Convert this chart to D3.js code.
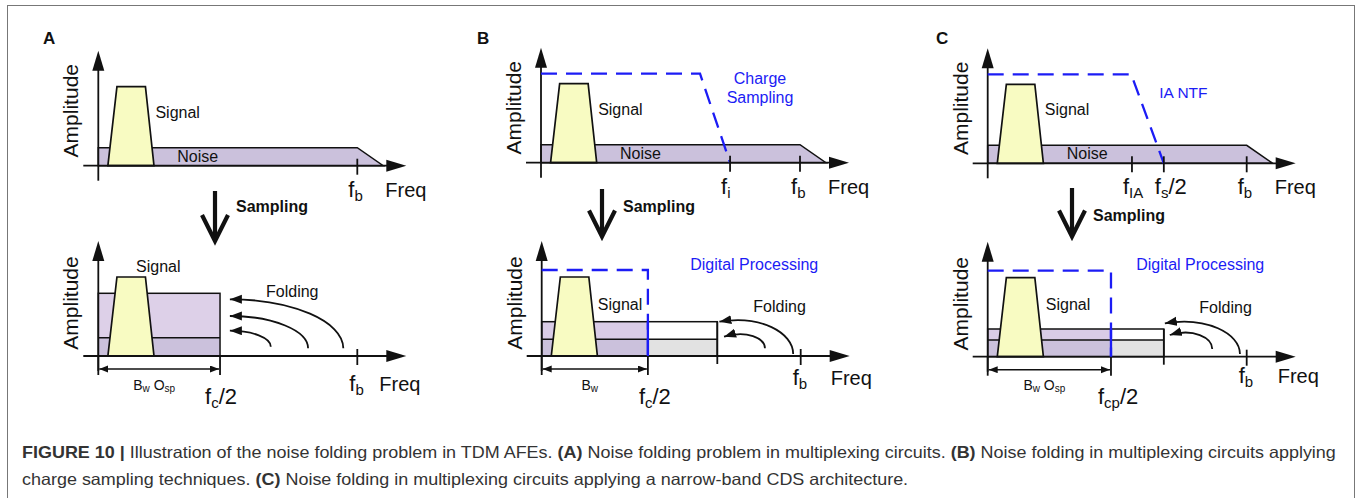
<!DOCTYPE html>
<html>
<head>
<meta charset="utf-8">
<script src="https://cdn.jsdelivr.net/npm/d3@7"></script>
<style>
  body { margin: 0; background: #fff; }
  svg { display: block; font-family: "Liberation Sans", Arial, Helvetica, sans-serif; }
</style>
</head>
<body>
<svg id="fig" width="1357" height="498"></svg>
<script>
// 1: VALUES
// frequency is in units of f_b (f_b = 1), amplitude in arbitrary units
const panelLetters = ["A", "B", "C"];
const signalCorners = [0.037, 0.072, 0.182, 0.215];
const signalHeight = 0.79;
const noiseLevel = 0.18;
const noiseCorner = 1.0;
const noiseEnd = 1.1;
const filterKnee = [null, 0.614, 0.554];
const filterCut = [null, 0.73, 0.68];
const filterLevel = 0.89;
const filterLabels = [null, ["Charge", "Sampling"], ["IA NTF"]];
const topTicks = [[1], [0.73, 1], [0.557, 0.68, 1]];
const topTickLabels = [
  [["f", "b", ""]],
  [["f", "i", ""], ["f", "b", ""]],
  [["f", "IA", ""], ["f", "s", "/2"], ["f", "b", ""]]
];

const bandEdge = [0.47, 0.41, 0.476];
const foldEdge = [null, 0.678, 0.68];
const foldedNoise = [0.627, 0.343, 0.277];
const baseNoise = [0.183, 0.167, 0.167];
const dspLevel = 0.86;
const foldArcs = [
  [[0.946, 0.077, 0.508, 0.567], [0.81, 0.077, 0.508, 0.40], [0.666, 0.093, 0.508, 0.253]],
  [[0.971, 0.02, 0.686, 0.343], [0.862, 0.077, 0.704, 0.193]],
  [[0.974, 0.027, 0.684, 0.334], [0.867, 0.077, 0.703, 0.217]]
];
const bandLabels = [["B", "w", " O", "sp"], ["B", "w"], ["B", "w", " O", "sp"]];
const edgeLabels = [["f", "c", "/2"], ["f", "c", "/2"], ["f", "cp", "/2"]];

const captionLine1 = [
  ["FIGURE 10 | ", true], ["Illustration of the noise folding problem in TDM AFEs. ", false],
  ["(A)", true], [" Noise folding problem in multiplexing circuits. ", false],
  ["(B)", true], [" Noise folding in multiplexing circuits applying", false]
];
const captionLine2 = [
  ["charge sampling techniques. ", false], ["(C)", true],
  [" Noise folding in multiplexing circuits applying a narrow-band CDS architecture.", false]
];

// 2: LAYOUT
const topX0 = [98.3, 541, 987.7], topY0 = [165.7, 162.7, 163.3];
const botX0 = [98.3, 541.7, 987.7], botY0 = [356, 356, 356.7];
const unitW = 259, unitH = 100;
const arcLift = [0, 7, 7];
const blue = "#1c1cf5";
const ink = "#111";

const svg = d3.select("#fig");

svg.append("rect")
  .attr("x", 7.5).attr("y", 5.5).attr("width", 1347).attr("height", 520)
  .attr("fill", "none").attr("stroke", "#777").attr("stroke-width", 1);

const defs = svg.append("defs");
defs.append("marker").attr("id", "head")
  .attr("markerUnits", "userSpaceOnUse").attr("markerWidth", 14).attr("markerHeight", 12)
  .attr("refX", 12).attr("refY", 4.5).attr("orient", "auto")
  .append("path").attr("d", "M0,0 L12,4.5 L0,9 Z").attr("fill", ink);
defs.append("marker").attr("id", "barb")
  .attr("markerUnits", "userSpaceOnUse").attr("markerWidth", 10).attr("markerHeight", 8)
  .attr("refX", 9).attr("refY", 3.5).attr("orient", "auto-start-reverse")
  .append("path").attr("d", "M0,0 L9,3.5 L0,7 Z").attr("fill", ink);

const line = (x, y) => d3.line().x(d => x(d[0])).y(d => y(d[1]));

// text with alternating normal / subscript parts
function subText(g, px, py, parts, size, subSize, shift, fill) {
  const t = g.append("text").attr("x", px).attr("y", py)
    .attr("font-size", size).attr("fill", fill || ink);
  let off = 0;
  parts.forEach((p, i) => {
    if (!p) return;
    const isSub = i % 2 === 1;
    const want = isSub ? shift : 0;
    t.append("tspan").attr("font-size", isSub ? subSize : size)
      .attr("dy", want - off).text(p);
    off = want;
  });
  return t;
}

function axes(g, x0, y0) {
  const xTip = x0 + 308, yTip = y0 - 115;
  g.append("line").attr("x1", x0 - 15).attr("x2", xTip - 10).attr("y1", y0).attr("y2", y0)
    .attr("stroke", ink).attr("stroke-width", 1.8);
  g.append("line").attr("x1", x0).attr("x2", x0).attr("y1", y0 + 15).attr("y2", yTip + 10)
    .attr("stroke", ink).attr("stroke-width", 1.8);
  g.append("path").attr("d", `M${xTip},${y0} L${xTip - 20},${y0 - 6} L${xTip - 20},${y0 + 6} Z`).attr("fill", ink);
  g.append("path").attr("d", `M${x0},${yTip} L${x0 - 6},${yTip + 20} L${x0 + 6},${yTip + 20} Z`).attr("fill", ink);
}

function amplitude(g, x0, cy) {
  g.append("text").attr("transform", `translate(${x0 - 20},${cy}) rotate(-90)`)
    .attr("text-anchor", "middle").attr("font-size", 21).attr("fill", ink).text("Amplitude");
}

function signal(g, x, y) {
  const c = signalCorners;
  g.append("path")
    .attr("d", line(x, y)([[c[0], 0], [c[1], signalHeight], [c[2], signalHeight], [c[3], 0]]) + "Z")
    .attr("fill", "#f8fbc2").attr("stroke", ink).attr("stroke-width", 1.7);
}

// 3: TOP ROW - spectra before sampling
panelLetters.forEach((L, i) => {
  const g = svg.append("g");
  const x0 = topX0[i], y0 = topY0[i];
  const x = d3.scaleLinear().domain([0, 1]).range([x0, x0 + unitW]);
  const y = d3.scaleLinear().domain([0, 1]).range([y0, y0 - unitH]);

  g.append("text").attr("x", [43, 477, 936][i]).attr("y", 44)
    .attr("font-size", 17).attr("font-weight", "bold").attr("fill", ink).text(L);

  g.append("path")
    .attr("d", line(x, y)([[0, 0], [0, noiseLevel], [noiseCorner, noiseLevel], [noiseEnd, 0]]) + "Z")
    .attr("fill", "#cbc1dc").attr("stroke", ink).attr("stroke-width", 1.5);
  signal(g, x, y);
  axes(g, x0, y0);
  amplitude(g, x0, y0 - 55);

  if (filterKnee[i] !== null) {
    g.append("path")
      .attr("d", line(x, y)([[0, filterLevel], [filterKnee[i], filterLevel], [filterCut[i], 0]]))
      .attr("fill", "none").attr("stroke", blue).attr("stroke-width", 2.3)
      .attr("stroke-dasharray", "16,9");
  }

  topTicks[i].forEach((f, k) => {
    g.append("line").attr("x1", x(f)).attr("x2", x(f)).attr("y1", y0 - 7).attr("y2", y0 + 9)
      .attr("stroke", ink).attr("stroke-width", 1.8);
    subText(g, x(f) - 9, y0 + 31, topTickLabels[i][k], 22, 15, 4);
  });

  g.append("text").attr("x", x(1) + 28).attr("y", y0 + 31)
    .attr("font-size", 20).attr("fill", ink).text("Freq");

  g.append("text").attr("x", x(signalCorners[2]) + 10).attr("y", y0 - 48)
    .attr("font-size", 16).attr("fill", ink).text("Signal");
  g.append("text").attr("x", x0 + 79).attr("y", y0 - 4)
    .attr("font-size", 16).attr("fill", ink).text("Noise");

  if (i === 1) {
    filterLabels[i].forEach((s, k) => {
      g.append("text").attr("x", x0 + 219).attr("y", y0 - 78.7 + k * 19.3)
        .attr("text-anchor", "middle").attr("font-size", 16).attr("fill", blue).text(s);
    });
  }
  if (i === 2) {
    g.append("text").attr("x", x0 + 171.6).attr("y", y0 - 65)
      .attr("font-size", 15.5).attr("fill", blue).text(filterLabels[i][0]);
  }
});

// 4: SAMPLING ARROWS
const arrowX = [215, 602, 1072], arrowTop = [191, 189, 188], arrowTip = [241, 236.5, 236.5];
const samplingY = [211.7, 211.7, 220.7];
arrowX.forEach((ax, i) => {
  const g = svg.append("g").attr("stroke", ink).attr("stroke-width", 4.2).attr("fill", "none");
  g.append("line").attr("x1", ax).attr("x2", ax).attr("y1", arrowTop[i]).attr("y2", arrowTip[i] - 2);
  g.append("path").attr("d", `M${ax - 13},${arrowTip[i] - 26} L${ax},${arrowTip[i]} L${ax + 13},${arrowTip[i] - 26}`)
    .attr("stroke-linejoin", "miter");
  svg.append("text").attr("x", ax + 21).attr("y", samplingY[i])
    .attr("font-size", 16).attr("font-weight", "bold").attr("fill", ink).text("Sampling");
});

// 5: BOTTOM ROW - spectra after sampling
const freqDx = [22, 30, 31], botLabelDy = [35, 29, 26];
const edgeDx = [-15, -9, -13];
panelLetters.forEach((L, i) => {
  const g = svg.append("g");
  const x0 = botX0[i], y0 = botY0[i];
  const x = d3.scaleLinear().domain([0, 1]).range([x0, x0 + unitW]);
  const y = d3.scaleLinear().domain([0, 1]).range([y0, y0 - unitH]);
  const b = bandEdge[i];
  const right = foldEdge[i] === null ? b : foldEdge[i];

  // folded noise inside band
  g.append("rect").attr("x", x(0)).attr("width", x(b) - x(0))
    .attr("y", y(foldedNoise[i])).attr("height", y(baseNoise[i]) - y(foldedNoise[i]))
    .attr("fill", i === 0 ? "#ddd0e8" : "#d9cce6");
  g.append("rect").attr("x", x(0)).attr("width", x(b) - x(0))
    .attr("y", y(baseNoise[i])).attr("height", y(0) - y(baseNoise[i]))
    .attr("fill", "#cbc1dc");
  if (foldEdge[i] !== null) {
    g.append("rect").attr("x", x(b)).attr("width", x(right) - x(b))
      .attr("y", y(foldedNoise[i])).attr("height", y(baseNoise[i]) - y(foldedNoise[i]))
      .attr("fill", "#fff");
    g.append("rect").attr("x", x(b)).attr("width", x(right) - x(b))
      .attr("y", y(baseNoise[i])).attr("height", y(0) - y(baseNoise[i]))
      .attr("fill", "#e2e2e2");
  }
  g.append("rect").attr("x", x(0)).attr("width", x(right) - x(0))
    .attr("y", y(foldedNoise[i])).attr("height", y(0) - y(foldedNoise[i]))
    .attr("fill", "none").attr("stroke", ink).attr("stroke-width", 1.5);
  g.append("line").attr("x1", x(0)).attr("x2", x(right))
    .attr("y1", y(baseNoise[i])).attr("y2", y(baseNoise[i]))
    .attr("stroke", ink).attr("stroke-width", 1.5);

  signal(g, x, y);
  axes(g, x0, y0);
  amplitude(g, x0, y0 - 53);

  if (foldEdge[i] !== null) {
    g.append("line").attr("x1", x(right)).attr("x2", x(right))
      .attr("y1", y(foldedNoise[i])).attr("y2", y0 + 8)
      .attr("stroke", ink).attr("stroke-width", 1.8);
    g.append("line").attr("x1", x(b)).attr("x2", x(b))
      .attr("y1", y(foldedNoise[i])).attr("y2", y0)
      .attr("stroke", blue).attr("stroke-width", 2.3);
    g.append("path")
      .attr("d", line(x, y)([[0, dspLevel], [b, dspLevel], [b, 0]]))
      .attr("fill", "none").attr("stroke", blue).attr("stroke-width", 2.3)
      .attr("stroke-dasharray", "16,9");
    g.append("text").attr("x", x0 + 148.5).attr("y", 270)
      .attr("font-size", 16).attr("fill", blue).text("Digital Processing");
  }

  // folding arcs (quarter-ellipse like curves, slightly lifted in B and C)
  const lift = arcLift[i];
  foldArcs[i].forEach(a => {
    const sx = x(a[0]), sy = y(a[1]), ex = x(a[2]), ey = y(a[3]);
    const c1 = [sx, sy - 0.55 * (sy - ey + lift)];
    const c2 = [ex + 0.55 * (sx - ex), ey - lift];
    g.append("path").attr("d", `M${sx},${sy} C${c1} ${c2} ${ex},${ey}`)
      .attr("fill", "none").attr("stroke", ink).attr("stroke-width", 1.8)
      .attr("marker-end", "url(#head)");
  });

  // f_b tick
  g.append("line").attr("x1", x(1)).attr("x2", x(1)).attr("y1", y0 - 7).attr("y2", y0 + 9)
    .attr("stroke", ink).attr("stroke-width", 1.8);
  subText(g, x(1) - 8, y0 + botLabelDy[i], ["f", "b"], 22, 15, 4);
  g.append("text").attr("x", x(1) + freqDx[i]).attr("y", y0 + botLabelDy[i])
    .attr("font-size", 20).attr("fill", ink).text("Freq");

  // bandwidth bracket
  [0, b].forEach(f => {
    g.append("line").attr("x1", x(f)).attr("x2", x(f)).attr("y1", y0).attr("y2", y0 + 19)
      .attr("stroke", ink).attr("stroke-width", 1.8);
  });
  g.append("line").attr("x1", x(0) + 1).attr("x2", x(b) - 1).attr("y1", y0 + 13).attr("y2", y0 + 13)
    .attr("stroke", ink).attr("stroke-width", 1.6)
    .attr("marker-start", "url(#barb)").attr("marker-end", "url(#barb)");
  subText(g, (x(0) + x(b)) / 2 - 5, 390, bandLabels[i], 14, 10, 2).attr("text-anchor", "middle");
  subText(g, x(b) + edgeDx[i], 404, edgeLabels[i], 22, 15, 4);

  const sigX = [x0 + 37.7, x(signalCorners[2]) + 9, x(signalCorners[2]) + 11][i];
  const sigY = [y0 - 84, y0 - 46, y0 - 46.7][i];
  g.append("text").attr("x", sigX).attr("y", sigY)
    .attr("font-size", 16).attr("fill", ink).text("Signal");
  g.append("text").attr("x", x0 + [167.7, 211.6, 211.6][i]).attr("y", y0 - [59.3, 44.3, 44][i])
    .attr("font-size", 16).attr("fill", ink).text("Folding");
});

// 6: CAPTION
function captionLine(parts) {
  const t = svg.append("text").attr("x", 0).attr("y", 0)
    .attr("font-size", 16.5).attr("fill", "#333");
  parts.forEach(p => {
    t.append("tspan").attr("font-weight", p[1] ? "bold" : "normal").text(p[0]);
  });
  return t;
}
const cap1 = captionLine(captionLine1);
const cap2 = captionLine(captionLine2);
const k = 1315 / cap1.node().getComputedTextLength();
cap1.attr("transform", `translate(22,458) scale(${k},1)`);
cap2.attr("transform", `translate(22,485) scale(${k},1)`);
</script>
</body>
</html>
